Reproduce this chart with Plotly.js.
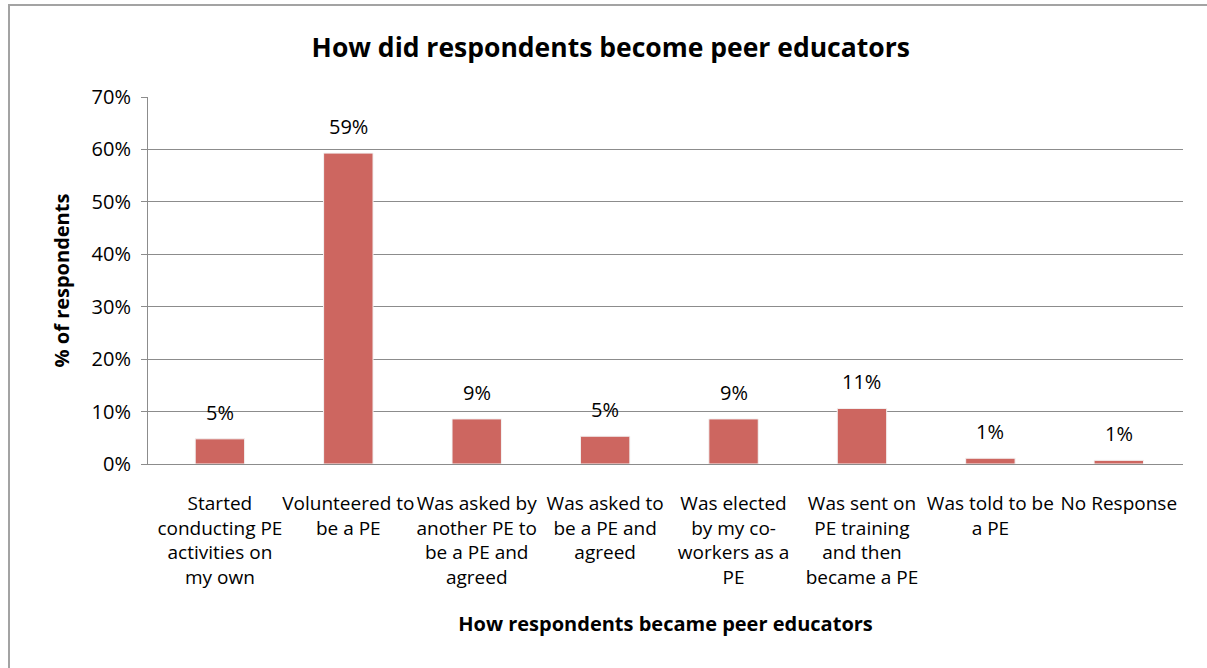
<!DOCTYPE html>
<html>
<head>
<meta charset="utf-8">
<script src="https://cdn.plot.ly/plotly-3.0.1.min.js"></script>
<style>
  html, body { margin: 0; padding: 0; background: #fff; overflow: hidden; }
  #wrap { position: relative; width: 1207px; height: 668px; overflow: hidden; }
  #chart { position: absolute; left: 0; top: 0; width: 1207px; height: 668px; }
  #frame { position: absolute; left: 8px; top: 4px; width: 1300px; height: 800px;
           border: 2px solid #a3a3a3; pointer-events: none; box-sizing: border-box; }
</style>
</head>
<body>
<div id="wrap">
  <div id="chart"></div>
  <div id="frame"></div>
</div>
<script>
// Data
const categories = [
  "Started conducting PE activities on my own",
  "Volunteered to be a PE",
  "Was asked by another PE to be a PE and agreed",
  "Was asked to be a PE and agreed",
  "Was elected by my co-workers as a PE",
  "Was sent on PE training and then became a PE",
  "Was told to be a PE",
  "No Response"
];
const tickLabels = [
  "Started<br>conducting PE<br>activities on<br>my own",
  "Volunteered to<br>be a PE",
  "Was asked by<br>another PE to<br>be a PE and<br>agreed",
  "Was asked to<br>be a PE and<br>agreed",
  "Was elected<br>by my co-<br>workers as a<br>PE",
  "Was sent on<br>PE training<br>and then<br>became a PE",
  "Was told to be<br>a PE",
  "No Response"
];
const percentValues = [4.8, 59.3, 8.6, 5.3, 8.6, 10.6, 1.1, 0.7];
const yTickValues = [0, 10, 20, 30, 40, 50, 60, 70];

const FONT = "Open Sans, Lato, sans-serif";
const BAR = "#cd6660";

const trace = {
  type: "bar",
  x: categories,
  y: percentValues,
  marker: { color: BAR, line: { color: "#f4f4f4", width: 1 } },
  hoverinfo: "x+y",
  showlegend: false
};

const annotations = categories.map((c, i) => ({
  x: c, y: percentValues[i], xref: "x", yref: "y",
  text: Math.round(percentValues[i]) + "%",
  showarrow: false, yanchor: "bottom", yshift: 11,
  font: { family: FONT, size: 20, color: "#000" }
}));

const layout = {
  width: 1207, height: 668,
  margin: { l: 148, r: 24, t: 97, b: 204 },
  paper_bgcolor: "#fff", plot_bgcolor: "#fff",
  bargap: 0.615,
  title: {
    text: "<b>How did respondents become peer educators</b>",
    font: { family: FONT, size: 26.5, color: "#000" },
    x: 0.506, xref: "container", xanchor: "center",
    y: 1 - 48 / 668, yref: "container", yanchor: "middle"
  },
  xaxis: {
    type: "category",
    range: [-0.56, 7.5],
    tickmode: "array", tickvals: categories, ticktext: tickLabels,
    tickfont: { family: FONT, size: 19, color: "#000" },
    tickangle: 0,
    ticks: "", showline: true, linecolor: "#8c8c8c", linewidth: 1,
    ticklabelstandoff: 22,
    title: {
      text: "<b>How respondents became peer educators</b>",
      font: { family: FONT, size: 20, color: "#000" },
      standoff: 28
    },
    automargin: false
  },
  yaxis: {
    range: [0, 70],
    tickmode: "array", tickvals: yTickValues,
    ticktext: yTickValues.map(v => v + "%"),
    tickfont: { family: FONT, size: 20, color: "#000" },
    ticks: "outside", ticklen: 6, tickcolor: "#8c8c8c", tickwidth: 1,
    showline: true, linecolor: "#8c8c8c", linewidth: 1,
    showgrid: true, gridcolor: "#8c8c8c", gridwidth: 1,
    zeroline: false,
    ticklabelstandoff: 6,
    title: {
      text: "<b>% of respondents</b>",
      font: { family: FONT, size: 20, color: "#000" },
      standoff: 16
    },
    automargin: false
  },
  annotations: annotations
};

Plotly.newPlot("chart", [trace], layout, { staticPlot: true, displayModeBar: false });
</script>
</body>
</html>
